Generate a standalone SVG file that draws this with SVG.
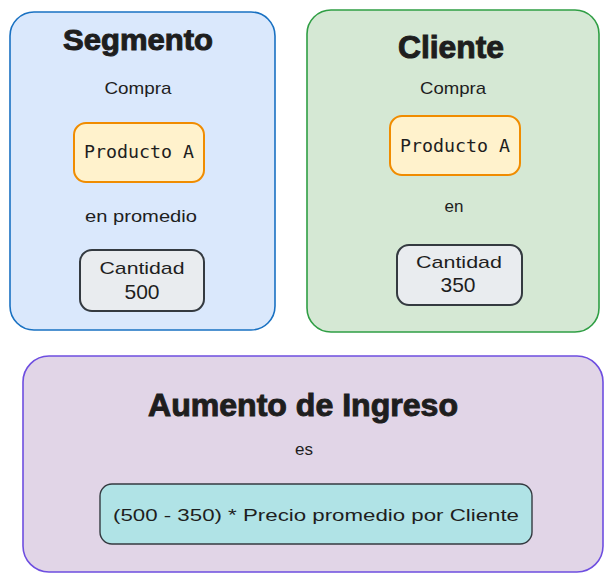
<svg xmlns="http://www.w3.org/2000/svg" width="613" height="582" viewBox="0 0 613 582">
  <style>
    .panel { stroke-width: 1.6; }
    .blue { fill: #dae8fc; stroke: #1971c2; }
    .green { fill: #d5e8d4; stroke: #2f9e44; }
    .purple { fill: #e1d5e7; stroke: #6e4ee0; }
    .prod { fill: #fff2cc; stroke: #f08c00; stroke-width: 2; }
    .qty { fill: #e9ecef; stroke: #343a40; stroke-width: 2; }
    .formula { fill: #b0e3e6; stroke: #343a40; stroke-width: 1.4; }
    .title { font-family: "Liberation Sans", Arial, sans-serif; font-weight: bold; fill: #1e1e1e; stroke: #1e1e1e; stroke-width: 1; text-anchor: middle; }
    .hand { font-family: "Liberation Sans", Arial, sans-serif; font-size: 17px; fill: #1e1e1e; text-anchor: middle; }
    .num { font-size: 21px; }
    .mono { font-family: "DejaVu Sans Mono", "Liberation Mono", monospace; font-size: 18px; fill: #1e1e1e; text-anchor: middle; }
  </style>

  <!-- Segmento panel -->
  <g id="segmento">
    <rect class="panel blue" x="10" y="12" width="265" height="318" rx="24"/>
    <text class="title" x="138" y="50" font-size="30" textLength="150" lengthAdjust="spacingAndGlyphs">Segmento</text>
    <text class="hand" x="138" y="94" textLength="67" lengthAdjust="spacingAndGlyphs">Compra</text>
  </g>
  <g id="seg-producto">
    <rect class="prod" x="74" y="123" width="130" height="59" rx="12"/>
    <text class="mono" x="139" y="158" textLength="110" lengthAdjust="spacingAndGlyphs">Producto A</text>
  </g>
  <g id="seg-promedio">
    <text class="hand" x="141" y="222" textLength="112" lengthAdjust="spacingAndGlyphs">en promedio</text>
  </g>
  <g id="seg-cantidad">
    <rect class="qty" x="80" y="250" width="124" height="61" rx="12"/>
    <text class="hand" x="142" y="274" font-size="18" textLength="85" lengthAdjust="spacingAndGlyphs">Cantidad</text>
    <text class="hand num" x="142" y="299">500</text>
  </g>

  <!-- Cliente panel -->
  <g id="cliente">
    <rect class="panel green" x="307" y="10" width="292" height="322" rx="24"/>
    <text class="title" x="451" y="58" font-size="31" textLength="106" lengthAdjust="spacingAndGlyphs">Cliente</text>
    <text class="hand" x="453" y="94" textLength="66" lengthAdjust="spacingAndGlyphs">Compra</text>
  </g>
  <g id="cli-producto">
    <rect class="prod" x="390" y="116" width="130" height="59" rx="12"/>
    <text class="mono" x="455" y="152" textLength="110" lengthAdjust="spacingAndGlyphs">Producto A</text>
  </g>
  <g id="cli-en">
    <text class="hand" x="454" y="212">en</text>
  </g>
  <g id="cli-cantidad">
    <rect class="qty" x="397" y="245" width="125" height="60" rx="12"/>
    <text class="hand" x="459" y="268" font-size="18" textLength="86" lengthAdjust="spacingAndGlyphs">Cantidad</text>
    <text class="hand num" x="458" y="292">350</text>
  </g>

  <!-- Aumento de Ingreso panel -->
  <g id="aumento">
    <rect class="panel purple" x="23" y="356" width="580" height="216" rx="26"/>
    <text class="title" x="303" y="416" font-size="32" textLength="310" lengthAdjust="spacingAndGlyphs">Aumento de Ingreso</text>
    <text class="hand" x="304" y="455">es</text>
  </g>
  <g id="formula">
    <rect class="formula" x="100" y="484" width="432" height="60" rx="12"/>
    <text class="hand" x="316" y="521" font-size="19" textLength="406" lengthAdjust="spacingAndGlyphs">(500 - 350) * Precio promedio por Cliente</text>
  </g>
</svg>
